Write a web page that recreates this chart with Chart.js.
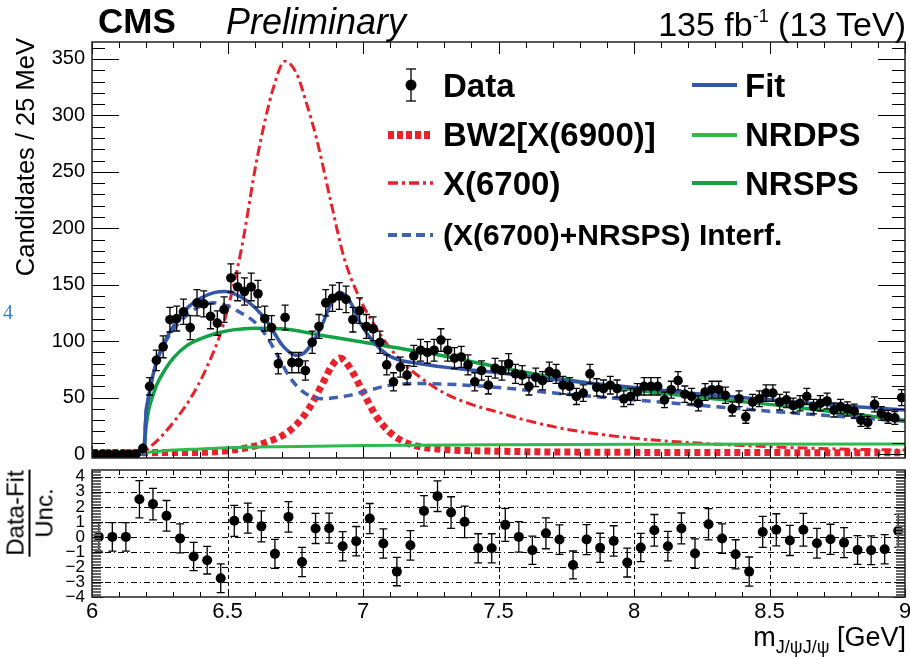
<!DOCTYPE html>
<html>
<head>
<meta charset="utf-8">
<title>CMS J/psi J/psi invariant mass</title>
<script src="https://cdn.jsdelivr.net/npm/chart.js@4.4.1/dist/chart.umd.min.js"></script>
<style>
  html, body { margin: 0; padding: 0; background: #fff; }
  #page { position: relative; width: 910px; height: 657px; overflow: hidden; background: #fff;
          font-family: "Liberation Sans", Arial, Helvetica, sans-serif; color: #000; }
  .box { position: absolute; }
  .txt { position: absolute; line-height: 1; white-space: nowrap; }
  .leg { position: absolute; line-height: 1; white-space: nowrap; font-weight: bold; }
  .sample { position: absolute; overflow: visible; }
</style>
</head>
<body>
<div id="page">
  <div class="box" style="left:0;top:0;width:910px;height:470px"><canvas id="massChart" width="910" height="470"></canvas></div>
  <div class="box" style="left:0;top:460px;width:910px;height:197px"><canvas id="pullChart" width="910" height="197"></canvas></div>

  <div class="txt" style="left:98px;top:3px;font-size:35px;font-weight:bold">CMS</div>
  <div class="txt" style="left:226px;top:4px;font-size:36px;font-style:italic">Preliminary</div>
  <div class="txt" style="right:4px;top:7px;font-size:34px">135 fb<span style="font-size:18px;vertical-align:14px">-1</span> (13 TeV)</div>

  <div class="txt" style="left:3px;top:302px;font-size:20px;font-family:'Liberation Serif',serif;color:#3a7fc0">4</div>

  <div class="txt" id="yTitle" style="font-size:25.5px;left:26px;top:38px;transform-origin:0 0;transform:rotate(-90deg) translate(-100%,-50%)">Candidates / 25 MeV</div>

  <div class="txt" id="pullTitle" style="left:30px;top:513px;transform:translate(-50%,-50%) rotate(-90deg);font-size:24px;text-align:center">
    <div style="border-bottom:2px solid #000;padding:0 1px 1px">Data-Fit</div>
    <div style="padding-top:2px">Unc.</div>
  </div>

  <div class="txt" style="right:4px;top:624px;font-size:27px">m<span style="font-size:18px;vertical-align:-7px">J/ψJ/ψ</span> [GeV]</div>

  <div id="legend"></div>
</div>

<script>
// ---- data ----
// main panel: candidates per 25 MeV bin, from 6.0 to 9.0 GeV
const binLow = 6.0;
const binWidth = 0.025;
const counts = [
  0, 0, 0, 0, 0, 0, 0, 5, 60, 83,
  95, 119, 120, 126, 112, 134, 133, 122, 116, 128,
  156, 148, 144, 148, 142, 120, 112, 80, 121, 81,
  81, 74, 99, 113, 134, 138, 140, 137, 119, 127,
  113, 111, 99, 79, 64, 77, 70, 87, 92, 90,
  92, 101, 92, 85, 86, 79, 64, 74, 61, 76,
  74, 80, 71, 70, 60, 68, 65, 73, 71, 61,
  60, 51, 54, 71, 59, 58, 61, 58, 49, 51,
  55, 60, 60, 60, 48, 57, 65, 53, 51, 45,
  55, 57, 57, 52, 40, 49, 33, 46, 49, 54,
  54, 46, 48, 43, 45, 51, 42, 45, 47, 39,
  42, 40, 38, 30, 28, 44, 36, 33, 32, 50
];
const countErr = [
  0, 0, 0, 0, 0, 0, 0, 2.2, 7.7, 9.1,
  9.7, 10.9, 11.0, 11.2, 10.6, 11.6, 11.5, 11.0, 10.8, 11.3,
  12.5, 12.2, 12.0, 12.2, 11.9, 11.0, 10.6, 8.9, 11.0, 9.0,
  9.0, 8.6, 9.9, 10.6, 11.6, 11.7, 11.8, 11.7, 10.9, 11.3,
  10.6, 10.5, 9.9, 8.9, 8.0, 8.8, 8.4, 9.3, 9.6, 9.5,
  9.6, 10.0, 9.6, 9.2, 9.3, 8.9, 8.0, 8.6, 7.8, 8.7,
  8.6, 8.9, 8.4, 8.4, 7.7, 8.2, 8.1, 8.5, 8.4, 7.8,
  7.7, 7.1, 7.3, 8.4, 7.7, 7.6, 7.8, 7.6, 7.0, 7.1,
  7.4, 7.7, 7.7, 7.7, 6.9, 7.5, 8.1, 7.3, 7.1, 6.7,
  7.4, 7.5, 7.5, 7.2, 6.3, 7.0, 5.7, 6.8, 7.0, 7.3,
  7.3, 6.8, 6.9, 6.6, 6.7, 7.1, 6.5, 6.7, 6.9, 6.2,
  6.5, 6.3, 6.2, 5.5, 5.3, 6.6, 6.0, 5.7, 5.7, 7.1
];

// lower panel: (data - fit) / uncertainty in 50 MeV bins
const pullBinWidth = 0.05;
const pulls = [
  0, 0, 0, 2.5, 2.18, 1.4, -0.1, -1.3, -1.55, -2.75,
  1.07, 1.25, 0.7, -1.13, 1.33, -1.67, 0.56, 0.58, -0.62, -0.29,
  1.22, -0.44, -2.31, -0.56, 1.73, 2.71, 1.62, 1.0, -0.76, -0.76,
  0.8, 0, -0.89, 0.24, -0.18, -1.87, -0.18, -0.73, -0.27, -1.71,
  -0.71, 0.44, -0.62, 0.56, -1.11, 0.84, -0.11, -1.16, -2.31, 0.33,
  0.47, -0.24, 0.47, -0.42, -0.16, -0.38, -0.87, -0.89, -0.82, 0.4
];
const pullErr = [
  0.95, 0.95, 0.95, 1.24, 1.05, 1.02, 0.97, 0.94, 0.92, 0.96,
  1.03, 1.0, 1.03, 0.97, 1.02, 0.97, 1.0, 1.0, 0.97, 0.98,
  1.0, 0.97, 0.94, 0.98, 1.02, 1.02, 1.05, 1.05, 0.97, 0.97,
  1.1, 1.02, 0.94, 1.03, 0.98, 0.93, 1.0, 0.97, 1.01, 0.96,
  0.94, 1.05, 0.98, 1.03, 0.98, 1.04, 0.98, 0.97, 0.97, 1.03,
  1.07, 1.0, 1.09, 0.99, 1.0, 1.0, 0.96, 0.96, 0.97, 1.1
];

// fit components, sampled along the curves
const fitMass = [6.0, 6.19, 6.2, 6.21, 6.225, 6.25, 6.3, 6.35, 6.4, 6.45, 6.49, 6.55, 6.6, 6.65, 6.7, 6.73, 6.755, 6.78, 6.82, 6.85, 6.88, 6.915, 6.95, 6.99, 7.04, 7.09, 7.14, 7.2, 7.3, 7.5, 7.75, 8.0, 8.25, 8.5, 8.75, 9.0];
const fitVal  = [0, 0, 38, 52, 70, 90, 113, 129, 138, 143, 144, 139, 130, 116, 97, 90, 87.5, 89, 101, 115, 132, 143, 136, 116, 99, 88, 83, 80.5, 77, 72, 65, 59, 53, 48, 43, 39];

const nrspsMass = [6.0, 6.19, 6.2, 6.21, 6.225, 6.24, 6.27, 6.3, 6.35, 6.4, 6.46, 6.52, 6.6, 6.7, 6.85, 6.98, 7.1, 7.25, 7.5, 7.75, 8.0, 8.25, 8.5, 8.75, 9.0];
const nrspsVal  = [0, 0, 25, 40, 52, 62, 75, 85, 96, 102, 107, 110, 111.5, 111, 105, 100, 95, 89, 77, 66, 57, 50, 44, 37, 30];

const nrdpsMass = [6.0, 6.19, 6.2, 6.25, 6.3, 6.4, 6.5, 6.7, 7.0, 7.5, 8.0, 9.0];
const nrdpsVal  = [0, 0, 1, 2.5, 3.5, 4.5, 5.5, 6.5, 7.5, 8.3, 8.7, 8.8];

const interfMass = [6.0, 6.19, 6.2, 6.21, 6.225, 6.25, 6.3, 6.35, 6.4, 6.45, 6.5, 6.55, 6.6, 6.63, 6.66, 6.69, 6.73, 6.78, 6.85, 6.9, 6.95, 7.0, 7.1, 7.2, 7.3, 7.5, 7.75, 8.0, 8.25, 8.5, 8.75, 9.0];
const interfVal  = [0, 0, 38, 52, 70, 89, 110, 123, 131, 134, 131, 125, 117, 109, 98, 85, 68, 55, 49, 50, 52, 55, 61, 62.5, 62, 59, 53, 48, 43, 38, 33.5, 29];

const x6700Mass = [6.0, 6.19, 6.2, 6.25, 6.3, 6.36, 6.42, 6.485, 6.55, 6.61, 6.67, 6.712, 6.755, 6.79, 6.83, 6.88, 6.93, 6.98, 7.04, 7.09, 7.15, 7.2, 7.3, 7.4, 7.5, 7.6, 7.75, 8.0, 8.25, 8.5, 8.75, 9.0];
const x6700Val  = [0, 0, 3, 14, 28, 48, 75, 115, 180, 263, 325, 348, 337, 312, 278, 225, 174, 142, 115, 97, 80, 70, 54, 44, 37, 30, 22, 14, 9.5, 6.5, 4.5, 3.5];

const bw2Mass = [6.0, 6.4, 6.5, 6.6, 6.65, 6.7, 6.75, 6.8, 6.85, 6.885, 6.915, 6.95, 7.0, 7.05, 7.1, 7.15, 7.2, 7.3, 7.5, 8.0, 9.0];
const bw2Val  = [1.2, 1.5, 3, 7, 11, 16, 25, 40, 62, 78, 85, 77, 55, 33, 19, 11, 7, 4, 2.5, 1.5, 1.2];

const xTicks = [6, 6.5, 7, 7.5, 8, 8.5, 9];
const seriesNames = ["Data", "BW2[X(6900)]", "X(6700)", "(X(6700)+NRSPS) Interf.", "Fit", "NRDPS", "NRSPS"];

// ---- colours ----
const RED = "#e8212b";
const BLUE = "#3356a8";
const BLUE_DASH = "#3f60b0";
const GREEN_SPS = "#12a145";
const GREEN_DPS = "#2dbb4d";

const pts = (xs, ys) => xs.map((x, i) => ({ x: x, y: ys[i] }));
const dataPts = counts.map((c, i) => ({ x: binLow + binWidth * (i + 0.5), y: c }));
const pullPts = pulls.map((p, i) => ({ x: binLow + pullBinWidth * (i + 0.5), y: p }));

// values from min to max in steps, without float drift
function stepValues(min, max, step) {
  const out = [];
  const first = Math.ceil(min / step - 1e-6), last = Math.floor(max / step + 1e-6);
  for (let n = first; n <= last; n++) out.push(+(n * step).toFixed(6));
  return out;
}
const onStep = (v, step) => Math.abs(v / step - Math.round(v / step)) < 1e-6;

// keep the plot frame where it is: no extra room for overhanging labels
const fixWidth = w => s => { s.width = w; s.paddingTop = 0; s.paddingBottom = 0; };
const fixHeight = h => s => { s.height = h; s.paddingLeft = 0; s.paddingRight = 0; };

// ROOT style frame: inward ticks on all four sides, optional grid
const rootFrame = {
  id: "rootFrame",
  beforeDatasetsDraw(chart, args, o) {
    const { ctx, chartArea: a, scales: { x, y } } = chart;
    ctx.save();
    ctx.strokeStyle = "#000";
    ctx.lineWidth = 1;
    if (o.gridX) {
      ctx.setLineDash(o.gridX.dash);
      o.gridX.values.forEach(v => {
        const px = Math.round(x.getPixelForValue(v)) + 0.5;
        ctx.beginPath(); ctx.moveTo(px, a.top); ctx.lineTo(px, a.bottom); ctx.stroke();
      });
    }
    if (o.gridY) {
      ctx.setLineDash(o.gridY.dash);
      stepValues(y.min, y.max, o.gridY.step).forEach(v => {
        if (v <= y.min) return;
        const py = Math.round(y.getPixelForValue(v)) + 0.5;
        ctx.beginPath(); ctx.moveTo(a.left, py); ctx.lineTo(a.right, py); ctx.stroke();
      });
    }
    ctx.restore();
  },
  afterDatasetsDraw(chart, args, o) {
    const { ctx, chartArea: a, scales: { x, y } } = chart;
    ctx.save();
    ctx.strokeStyle = "#000";
    ctx.lineWidth = 1;
    stepValues(x.min, x.max, o.xMinor).forEach(v => {
      const len = onStep(v, o.xMajor) ? o.xMajorLen : o.xMinorLen;
      const px = Math.round(x.getPixelForValue(v)) + 0.5;
      ctx.beginPath();
      ctx.moveTo(px, a.bottom); ctx.lineTo(px, a.bottom - len);
      ctx.moveTo(px, a.top); ctx.lineTo(px, a.top + len);
      ctx.stroke();
    });
    stepValues(y.min, y.max, o.yMinor).forEach(v => {
      const major = onStep(v, o.yMajor);
      const len = major ? o.yMajorLen : o.yMinorLen;
      const py = Math.round(y.getPixelForValue(v)) + 0.5;
      ctx.strokeStyle = major ? "#000" : (o.yMinorColor || "#000");
      ctx.beginPath();
      ctx.moveTo(a.left, py); ctx.lineTo(a.left + len, py);
      ctx.moveTo(a.right, py); ctx.lineTo(a.right - len, py);
      ctx.stroke();
    });
    ctx.strokeStyle = "#222";
    ctx.lineWidth = 1.5;
    ctx.strokeRect(a.left, a.top, a.right - a.left, a.bottom - a.top);
    ctx.restore();
  }
};

// vertical error bars with small caps, drawn under the markers
const errorBars = {
  id: "errorBars",
  beforeDatasetDraw(chart, args, o) {
    const ds = chart.data.datasets[args.index];
    if (!ds.errors) return;
    const { ctx, chartArea: a, scales: { x, y } } = chart;
    ctx.save();
    ctx.beginPath(); ctx.rect(a.left, a.top, a.right - a.left, a.bottom - a.top); ctx.clip();
    ctx.strokeStyle = "#000";
    ctx.lineWidth = 1.3;
    ds.data.forEach((p, i) => {
      const e = ds.errors[i];
      if (!e) return;
      const px = x.getPixelForValue(p.x);
      const top = y.getPixelForValue(p.y + e), bot = y.getPixelForValue(p.y - e);
      ctx.beginPath();
      ctx.moveTo(px, top); ctx.lineTo(px, bot);
      ctx.moveTo(px - o.cap, top); ctx.lineTo(px + o.cap, top);
      ctx.moveTo(px - o.cap, bot); ctx.lineTo(px + o.cap, bot);
      ctx.stroke();
    });
    ctx.restore();
  }
};

const labelFont = "'Liberation Sans', Arial, Helvetica, sans-serif";
const minus = v => String(v).replace("-", "\u2212");

function curve(label, xs, ys, color, width, dash, order) {
  return {
    label: label, data: pts(xs, ys), borderColor: color, borderWidth: width,
    borderDash: dash, borderCapStyle: "butt", pointRadius: 0, fill: false,
    cubicInterpolationMode: "monotone", order: order
  };
}

// main panel
new Chart(document.getElementById("massChart"), {
  type: "line",
  data: {
    datasets: [
      {
        label: seriesNames[0], data: dataPts, errors: countErr, showLine: false,
        pointRadius: 4.8, pointBackgroundColor: "#000", pointBorderWidth: 0, clip: 0, order: 0
      },
      curve(seriesNames[4], fitMass, fitVal, BLUE, 3.5, [], 1),
      curve(seriesNames[3], interfMass, interfVal, BLUE_DASH, 3.5, [9, 6], 2),
      curve(seriesNames[6], nrspsMass, nrspsVal, GREEN_SPS, 3.5, [], 3),
      curve(seriesNames[5], nrdpsMass, nrdpsVal, GREEN_DPS, 3, [], 4),
      curve(seriesNames[2], x6700Mass, x6700Val, RED, 3, [10, 4, 3, 4], 5),
      curve(seriesNames[1], bw2Mass, bw2Val, RED, 7, [6, 4], 6)
    ]
  },
  options: {
    responsive: false, animation: false, devicePixelRatio: 1,
    layout: { padding: { left: 0, right: 5, top: 42, bottom: 12 } },
    plugins: {
      legend: { display: false }, tooltip: { enabled: false },
      errorBars: { cap: 3.5 },
      rootFrame: { xMajor: 0.5, xMinor: 0.1, xMajorLen: 12, xMinorLen: 6,
                   yMajor: 50, yMinor: 10, yMajorLen: 27, yMinorLen: 13 }
    },
    scales: {
      x: { type: "linear", min: 6, max: 9, display: false },
      y: {
        type: "linear", min: -3.5, max: 365,
        afterFit: fixWidth(92),
        grid: { display: false, drawTicks: false }, border: { display: false },
        ticks: { stepSize: 50, includeBounds: false, autoSkip: false, padding: 7, color: "#000",
                 font: { family: labelFont, size: 20 } }
      }
    }
  },
  plugins: [rootFrame, errorBars]
});

// lower panel: pulls
new Chart(document.getElementById("pullChart"), {
  type: "line",
  data: {
    datasets: [{
      label: "Data-Fit / Unc.", data: pullPts, errors: pullErr, showLine: false,
      pointRadius: 5, pointBackgroundColor: "#000", pointBorderWidth: 0
    }]
  },
  options: {
    responsive: false, animation: false, devicePixelRatio: 1,
    layout: { padding: { left: 0, right: 5, top: 10, bottom: 0 } },
    plugins: {
      legend: { display: false }, tooltip: { enabled: false },
      errorBars: { cap: 4 },
      rootFrame: { xMajor: 0.5, xMinor: 0.1, xMajorLen: 8, xMinorLen: 5,
                   yMajor: 1, yMinor: 0.1, yMajorLen: 11, yMinorLen: 9, yMinorColor: "#666",
                   gridX: { values: xTicks.slice(1, -1), dash: [4, 3] },
                   gridY: { step: 1, dash: [6, 3, 1, 3] } }
    },
    scales: {
      x: {
        type: "linear", min: 6, max: 9,
        afterBuildTicks: s => { s.ticks = xTicks.map(v => ({ value: v })); },
        afterFit: fixHeight(60),
        grid: { display: false, drawTicks: false }, border: { display: false },
        ticks: { autoSkip: false, maxRotation: 0, padding: 2, color: "#000",
                 font: { family: labelFont, size: 22 }, callback: v => String(v) }
      },
      y: {
        type: "linear", min: -4, max: 4.45,
        afterFit: fixWidth(92),
        grid: { display: false, drawTicks: false }, border: { display: false },
        ticks: { stepSize: 1, includeBounds: false, autoSkip: false, padding: 7, color: "#000",
                 font: { family: labelFont, size: 17 }, callback: v => minus(v) }
      }
    }
  },
  plugins: [rootFrame, errorBars]
});

// legend, two columns as in the figure
const legendItems = [
  { name: seriesNames[0], col: 0, row: 0, kind: "data" },
  { name: seriesNames[1], col: 0, row: 1, color: RED, width: 8, dash: "6 3" },
  { name: seriesNames[2], col: 0, row: 2, color: RED, width: 3.5, dash: "10 4 3 4" },
  { name: seriesNames[3], col: 0, row: 3, color: BLUE_DASH, width: 4, dash: "9 5", size: 30 },
  { name: seriesNames[4], col: 1, row: 0, color: BLUE, width: 4 },
  { name: seriesNames[5], col: 1, row: 1, color: GREEN_DPS, width: 4 },
  { name: seriesNames[6], col: 1, row: 2, color: GREEN_SPS, width: 4 }
];
const rowMid = [85, 134.5, 183, 234.5];
const colSample = [388, 692];
const colText = [443, 745];
const legend = document.getElementById("legend");
const svgNS = "http://www.w3.org/2000/svg";
legendItems.forEach(it => {
  const yc = rowMid[it.row];
  const size = it.size || 33;
  const svg = document.createElementNS(svgNS, "svg");
  svg.setAttribute("class", "sample");
  svg.setAttribute("width", 46);
  svg.setAttribute("height", 40);
  svg.style.left = colSample[it.col] + "px";
  svg.style.top = (yc - 20) + "px";
  if (it.kind === "data") {
    svg.innerHTML =
      '<line x1="23" y1="4" x2="23" y2="36" stroke="#000" stroke-width="1.3"/>' +
      '<line x1="18" y1="4" x2="28" y2="4" stroke="#000" stroke-width="1.3"/>' +
      '<line x1="18" y1="36" x2="28" y2="36" stroke="#000" stroke-width="1.3"/>' +
      '<circle cx="23" cy="20" r="5.5" fill="#000"/>';
  } else {
    svg.innerHTML = '<line x1="0" y1="20" x2="45" y2="20" stroke="' + it.color + '" stroke-width="' + it.width +
      '"' + (it.dash ? ' stroke-dasharray="' + it.dash + '"' : '') + '/>';
  }
  legend.appendChild(svg);
  const t = document.createElement("div");
  t.className = "leg";
  t.textContent = it.name;
  t.style.fontSize = size + "px";
  t.style.left = colText[it.col] + "px";
  t.style.top = Math.round(yc - 0.4885 * size) + "px";
  legend.appendChild(t);
});
</script>
</body>
</html>
